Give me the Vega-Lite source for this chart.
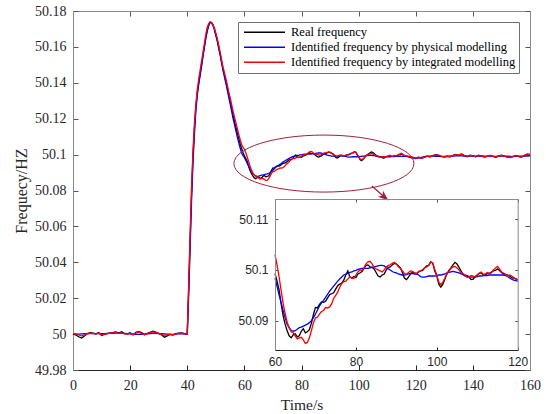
{
  "$schema": "https://vega.github.io/schema/vega-lite/v6.json",
  "width": 457,
  "height": 359,
  "autosize": "none",
  "padding": {"left": 73, "top": 11, "right": 16, "bottom": 44},
  "background": "white",
  "config": {
    "view": {"stroke": null},
    "legend": {
      "orient": "none", "legendX": 165, "legendY": 11, "title": null,
      "symbolType": "stroke", "symbolSize": 1681, "symbolStrokeWidth": 1.3,
      "labelFont": "Liberation Serif", "labelFontSize": 12.5, "labelColor": "#000000",
      "strokeColor": "#707070", "fillColor": "white", "padding": 3,
      "clipHeight": 14.5, "rowPadding": 0, "labelOffset": 5, "symbolOffset": 2, "labelLimit": 400
    }
  },
  "data": {"values": [
    {"t":0,"r":50.0000,"p":50.0000,"i":50.0002},
    {"t":1,"r":49.9995,"p":50.0000,"i":50.0001},
    {"t":2,"r":49.9985,"p":50.0000,"i":49.9995},
    {"t":3,"r":49.9978,"p":50.0001,"i":49.9990},
    {"t":4,"r":49.9990,"p":50.0002,"i":49.9995},
    {"t":5,"r":50.0003,"p":50.0003,"i":50.0002},
    {"t":6,"r":50.0008,"p":50.0003,"i":50.0005},
    {"t":7,"r":50.0005,"p":50.0003,"i":50.0004},
    {"t":8,"r":50.0002,"p":50.0003,"i":50.0000},
    {"t":9,"r":50.0009,"p":50.0003,"i":50.0006},
    {"t":10,"r":49.9992,"p":50.0003,"i":49.9996},
    {"t":11,"r":49.9998,"p":50.0003,"i":50.0000},
    {"t":12,"r":50.0003,"p":50.0004,"i":50.0003},
    {"t":13,"r":50.0005,"p":50.0005,"i":50.0006},
    {"t":14,"r":50.0008,"p":50.0006,"i":50.0005},
    {"t":15,"r":50.0012,"p":50.0006,"i":50.0008},
    {"t":16,"r":50.0006,"p":50.0006,"i":50.0004},
    {"t":17,"r":50.0013,"p":50.0005,"i":50.0007},
    {"t":18,"r":50.0003,"p":50.0004,"i":50.0002},
    {"t":19,"r":50.0001,"p":50.0003,"i":50.0000},
    {"t":20,"r":50.0007,"p":50.0002,"i":50.0004},
    {"t":21,"r":49.9995,"p":50.0000,"i":49.9998},
    {"t":22,"r":50.0010,"p":49.9999,"i":50.0006},
    {"t":23,"r":50.0014,"p":49.9999,"i":50.0011},
    {"t":24,"r":50.0008,"p":49.9999,"i":50.0004},
    {"t":25,"r":49.9997,"p":50.0000,"i":49.9996},
    {"t":26,"r":50.0004,"p":50.0002,"i":50.0003},
    {"t":27,"r":50.0010,"p":50.0003,"i":50.0008},
    {"t":28,"r":50.0016,"p":50.0004,"i":50.0012},
    {"t":29,"r":50.0011,"p":50.0004,"i":50.0009},
    {"t":30,"r":50.0004,"p":50.0003,"i":50.0004},
    {"t":31,"r":49.9996,"p":50.0002,"i":49.9998},
    {"t":32,"r":49.9982,"p":50.0001,"i":49.9993},
    {"t":33,"r":49.9990,"p":50.0000,"i":49.9996},
    {"t":34,"r":49.9998,"p":49.9999,"i":49.9999},
    {"t":35,"r":49.9994,"p":49.9999,"i":49.9996},
    {"t":36,"r":50.0002,"p":50.0000,"i":50.0001},
    {"t":37,"r":50.0005,"p":50.0001,"i":50.0004},
    {"t":38,"r":50.0007,"p":50.0001,"i":50.0006},
    {"t":39,"r":50.0002,"p":50.0001,"i":50.0002},
    {"t":40,"r":50.0000,"p":50.0000,"i":50.0000},
    {"t":40.5,"r":50.025,"p":50.022,"i":50.028},
    {"t":41,"r":50.052,"p":50.048,"i":50.056},
    {"t":41.5,"r":50.078,"p":50.074,"i":50.082},
    {"t":42,"r":50.099,"p":50.095,"i":50.102},
    {"t":42.5,"r":50.114,"p":50.111,"i":50.117},
    {"t":43,"r":50.126,"p":50.124,"i":50.128},
    {"t":43.5,"r":50.134,"p":50.133,"i":50.136},
    {"t":44,"r":50.140,"p":50.139,"i":50.142},
    {"t":44.5,"r":50.145,"p":50.144,"i":50.147},
    {"t":45,"r":50.150,"p":50.149,"i":50.152},
    {"t":45.5,"r":50.155,"p":50.155,"i":50.157},
    {"t":46,"r":50.160,"p":50.160,"i":50.162},
    {"t":46.5,"r":50.165,"p":50.165,"i":50.167},
    {"t":47,"r":50.169,"p":50.169,"i":50.171},
    {"t":47.5,"r":50.172,"p":50.172,"i":50.173},
    {"t":48,"r":50.1737,"p":50.1737,"i":50.1740},
    {"t":48.5,"r":50.1735,"p":50.1735,"i":50.1735},
    {"t":49,"r":50.1722,"p":50.1720,"i":50.1725},
    {"t":49.5,"r":50.1700,"p":50.1695,"i":50.1705},
    {"t":50,"r":50.1670,"p":50.1665,"i":50.1678},
    {"t":50.5,"r":50.1640,"p":50.1632,"i":50.1648},
    {"t":51,"r":50.1600,"p":50.1592,"i":50.1610},
    {"t":51.5,"r":50.1562,"p":50.1555,"i":50.1572},
    {"t":52,"r":50.1520,"p":50.1512,"i":50.1530},
    {"t":52.5,"r":50.1478,"p":50.1470,"i":50.1490},
    {"t":53,"r":50.1445,"p":50.1435,"i":50.1458},
    {"t":53.5,"r":50.1410,"p":50.1398,"i":50.1425},
    {"t":54,"r":50.1372,"p":50.1360,"i":50.1390},
    {"t":54.5,"r":50.1335,"p":50.1322,"i":50.1352},
    {"t":55,"r":50.1298,"p":50.1284,"i":50.1318},
    {"t":55.5,"r":50.1260,"p":50.1245,"i":50.1282},
    {"t":56,"r":50.1222,"p":50.1205,"i":50.1245},
    {"t":56.5,"r":50.1190,"p":50.1170,"i":50.1212},
    {"t":57,"r":50.1155,"p":50.1135,"i":50.1180},
    {"t":57.5,"r":50.1122,"p":50.1100,"i":50.1148},
    {"t":58,"r":50.1092,"p":50.1068,"i":50.1115},
    {"t":58.5,"r":50.1062,"p":50.1038,"i":50.1085},
    {"t":59,"r":50.1035,"p":50.1010,"i":50.1058},
    {"t":59.5,"r":50.1012,"p":50.0995,"i":50.1042},
    {"t":60,"r":50.0993,"p":50.0984,"i":50.1030},
    {"t":60.5,"r":50.0978,"p":50.0968,"i":50.1010},
    {"t":61,"r":50.0961,"p":50.0951,"i":50.0987},
    {"t":61.5,"r":50.0934,"p":50.0936,"i":50.0960},
    {"t":62,"r":50.0910,"p":50.0920,"i":50.0935},
    {"t":62.5,"r":50.0893,"p":50.0906,"i":50.0914},
    {"t":63,"r":50.0880,"p":50.0893,"i":50.0897},
    {"t":63.5,"r":50.0870,"p":50.0886,"i":50.0886},
    {"t":64,"r":50.0866,"p":50.0881,"i":50.0878},
    {"t":64.5,"r":50.0872,"p":50.0879,"i":50.0876},
    {"t":65,"r":50.0874,"p":50.0880,"i":50.0870},
    {"t":65.5,"r":50.0868,"p":50.0883,"i":50.0864},
    {"t":66,"r":50.0870,"p":50.0886,"i":50.0866},
    {"t":66.5,"r":50.0879,"p":50.0887,"i":50.0867},
    {"t":67,"r":50.0884,"p":50.0889,"i":50.0862},
    {"t":67.5,"r":50.0876,"p":50.0891,"i":50.0855},
    {"t":68,"r":50.0878,"p":50.0893,"i":50.0857},
    {"t":68.5,"r":50.0882,"p":50.0896,"i":50.0866},
    {"t":69,"r":50.0895,"p":50.0900,"i":50.0880},
    {"t":69.5,"r":50.0912,"p":50.0906,"i":50.0896},
    {"t":70,"r":50.0926,"p":50.0913,"i":50.0905},
    {"t":70.5,"r":50.0925,"p":50.0921,"i":50.0907},
    {"t":71,"r":50.0932,"p":50.0929,"i":50.0913},
    {"t":71.5,"r":50.0937,"p":50.0935,"i":50.0918},
    {"t":72,"r":50.0936,"p":50.0940,"i":50.0920},
    {"t":72.5,"r":50.0938,"p":50.0946,"i":50.0926},
    {"t":73,"r":50.0945,"p":50.0952,"i":50.0925},
    {"t":73.5,"r":50.0951,"p":50.0958,"i":50.0927},
    {"t":74,"r":50.0953,"p":50.0963,"i":50.0933},
    {"t":74.5,"r":50.0955,"p":50.0968,"i":50.0944},
    {"t":75,"r":50.0962,"p":50.0973,"i":50.0950},
    {"t":75.5,"r":50.0969,"p":50.0978,"i":50.0956},
    {"t":76,"r":50.0972,"p":50.0982,"i":50.0966},
    {"t":76.5,"r":50.0974,"p":50.0986,"i":50.0973},
    {"t":77,"r":50.0980,"p":50.0990,"i":50.0977},
    {"t":77.5,"r":50.0990,"p":50.0992,"i":50.0978},
    {"t":78,"r":50.0998,"p":50.0993,"i":50.0982},
    {"t":78.5,"r":50.0986,"p":50.0995,"i":50.0987},
    {"t":79,"r":50.0984,"p":50.0996,"i":50.0984},
    {"t":79.5,"r":50.0987,"p":50.0998,"i":50.0983},
    {"t":80,"r":50.0985,"p":50.0999,"i":50.0990},
    {"t":80.5,"r":50.0992,"p":50.1001,"i":50.0996},
    {"t":81,"r":50.0994,"p":50.1002,"i":50.1000},
    {"t":81.5,"r":50.0997,"p":50.1003,"i":50.0999},
    {"t":82,"r":50.1003,"p":50.1003,"i":50.1004},
    {"t":82.5,"r":50.1009,"p":50.1003,"i":50.1012},
    {"t":83,"r":50.1010,"p":50.1003,"i":50.1016},
    {"t":83.5,"r":50.1006,"p":50.1004,"i":50.1017},
    {"t":84,"r":50.1005,"p":50.1005,"i":50.1012},
    {"t":84.5,"r":50.1002,"p":50.1006,"i":50.1005},
    {"t":85,"r":50.0995,"p":50.1007,"i":50.1002},
    {"t":85.5,"r":50.0988,"p":50.1008,"i":50.1000},
    {"t":86,"r":50.0986,"p":50.1009,"i":50.0998},
    {"t":86.5,"r":50.0990,"p":50.1009,"i":50.0996},
    {"t":87,"r":50.0992,"p":50.1008,"i":50.1000},
    {"t":87.5,"r":50.1000,"p":50.1005,"i":50.1006},
    {"t":88,"r":50.1005,"p":50.1002,"i":50.1009},
    {"t":88.5,"r":50.1006,"p":50.1000,"i":50.1010},
    {"t":89,"r":50.1010,"p":50.0997,"i":50.1013},
    {"t":89.5,"r":50.1013,"p":50.0995,"i":50.1015},
    {"t":90,"r":50.1012,"p":50.0994,"i":50.1012},
    {"t":90.5,"r":50.1008,"p":50.0992,"i":50.1006},
    {"t":91,"r":50.1004,"p":50.0991,"i":50.1003},
    {"t":91.5,"r":50.0995,"p":50.0990,"i":50.0998},
    {"t":92,"r":50.0984,"p":50.0990,"i":50.0993},
    {"t":92.5,"r":50.0981,"p":50.0991,"i":50.0991},
    {"t":93,"r":50.0986,"p":50.0992,"i":50.0995},
    {"t":93.5,"r":50.0992,"p":50.0993,"i":50.0998},
    {"t":94,"r":50.0996,"p":50.0993,"i":50.0997},
    {"t":94.5,"r":50.0994,"p":50.0992,"i":50.0994},
    {"t":95,"r":50.0992,"p":50.0992,"i":50.0993},
    {"t":95.5,"r":50.0996,"p":50.0990,"i":50.0997},
    {"t":96,"r":50.0998,"p":50.0987,"i":50.0998},
    {"t":96.5,"r":50.0999,"p":50.0986,"i":50.1001},
    {"t":97,"r":50.1004,"p":50.0986,"i":50.1004},
    {"t":97.5,"r":50.1008,"p":50.0987,"i":50.1006},
    {"t":98,"r":50.1009,"p":50.0988,"i":50.1009},
    {"t":98.5,"r":50.1016,"p":50.0988,"i":50.1016},
    {"t":99,"r":50.1013,"p":50.0988,"i":50.1014},
    {"t":99.5,"r":50.0998,"p":50.0988,"i":50.1001},
    {"t":100,"r":50.0988,"p":50.0989,"i":50.0990},
    {"t":100.5,"r":50.0972,"p":50.0990,"i":50.0976},
    {"t":101,"r":50.0966,"p":50.0990,"i":50.0971},
    {"t":101.5,"r":50.0972,"p":50.0991,"i":50.0976},
    {"t":102,"r":50.0982,"p":50.0992,"i":50.0984},
    {"t":102.5,"r":50.0992,"p":50.0994,"i":50.0993},
    {"t":103,"r":50.0999,"p":50.0995,"i":50.0997},
    {"t":103.5,"r":50.1004,"p":50.0996,"i":50.1003},
    {"t":104,"r":50.1010,"p":50.0997,"i":50.1006},
    {"t":104.5,"r":50.1015,"p":50.0996,"i":50.1007},
    {"t":105,"r":50.1012,"p":50.0995,"i":50.1004},
    {"t":105.5,"r":50.1005,"p":50.0994,"i":50.1000},
    {"t":106,"r":50.0998,"p":50.0992,"i":50.0994},
    {"t":106.5,"r":50.0991,"p":50.0991,"i":50.0993},
    {"t":107,"r":50.0988,"p":50.0990,"i":50.0990},
    {"t":107.5,"r":50.0988,"p":50.0989,"i":50.0985},
    {"t":108,"r":50.0985,"p":50.0987,"i":50.0986},
    {"t":108.5,"r":50.0981,"p":50.0986,"i":50.0989},
    {"t":109,"r":50.0982,"p":50.0986,"i":50.0988},
    {"t":109.5,"r":50.0987,"p":50.0986,"i":50.0986},
    {"t":110,"r":50.0990,"p":50.0987,"i":50.0990},
    {"t":110.5,"r":50.0993,"p":50.0988,"i":50.0994},
    {"t":111,"r":50.0994,"p":50.0988,"i":50.0996},
    {"t":111.5,"r":50.0990,"p":50.0989,"i":50.0991},
    {"t":112,"r":50.0990,"p":50.0989,"i":50.0992},
    {"t":112.5,"r":50.0993,"p":50.0989,"i":50.0995},
    {"t":113,"r":50.0993,"p":50.0990,"i":50.0993},
    {"t":113.5,"r":50.0996,"p":50.0990,"i":50.0994},
    {"t":114,"r":50.0998,"p":50.0990,"i":50.1000},
    {"t":114.5,"r":50.0999,"p":50.0990,"i":50.1004},
    {"t":115,"r":50.1002,"p":50.0990,"i":50.1007},
    {"t":115.5,"r":50.0999,"p":50.0990,"i":50.1002},
    {"t":116,"r":50.0995,"p":50.0990,"i":50.0996},
    {"t":116.5,"r":50.0992,"p":50.0990,"i":50.0994},
    {"t":117,"r":50.0991,"p":50.0989,"i":50.0991},
    {"t":117.5,"r":50.0990,"p":50.0987,"i":50.0988},
    {"t":118,"r":50.0988,"p":50.0984,"i":50.0990},
    {"t":118.5,"r":50.0985,"p":50.0982,"i":50.0988},
    {"t":119,"r":50.0984,"p":50.0980,"i":50.0985},
    {"t":119.5,"r":50.0983,"p":50.0979,"i":50.0982},
    {"t":120,"r":50.0980,"p":50.0978,"i":50.0981},
    {"t":121,"r":50.0985,"p":50.0982,"i":50.0984},
    {"t":122,"r":50.0980,"p":50.0985,"i":50.0979},
    {"t":123,"r":50.0986,"p":50.0988,"i":50.0985},
    {"t":124,"r":50.0991,"p":50.0990,"i":50.0992},
    {"t":125,"r":50.0988,"p":50.0991,"i":50.0987},
    {"t":126,"r":50.0994,"p":50.0991,"i":50.0995},
    {"t":127,"r":50.0999,"p":50.0990,"i":50.0998},
    {"t":128,"r":50.0996,"p":50.0990,"i":50.0997},
    {"t":129,"r":50.0990,"p":50.0989,"i":50.0991},
    {"t":130,"r":50.0986,"p":50.0990,"i":50.0987},
    {"t":131,"r":50.0990,"p":50.0991,"i":50.0992},
    {"t":132,"r":50.0987,"p":50.0992,"i":50.0988},
    {"t":133,"r":50.0995,"p":50.0992,"i":50.0996},
    {"t":134,"r":50.1001,"p":50.0993,"i":50.1000},
    {"t":135,"r":50.0996,"p":50.0994,"i":50.0997},
    {"t":136,"r":50.1003,"p":50.0993,"i":50.1002},
    {"t":137,"r":50.0994,"p":50.0992,"i":50.0995},
    {"t":138,"r":50.0988,"p":50.0991,"i":50.0990},
    {"t":139,"r":50.0997,"p":50.0991,"i":50.0996},
    {"t":140,"r":50.0993,"p":50.0991,"i":50.0993},
    {"t":141,"r":50.0988,"p":50.0992,"i":50.0989},
    {"t":142,"r":50.0996,"p":50.0992,"i":50.0997},
    {"t":143,"r":50.0992,"p":50.0993,"i":50.0993},
    {"t":144,"r":50.0986,"p":50.0992,"i":50.0987},
    {"t":145,"r":50.0990,"p":50.0991,"i":50.0990},
    {"t":146,"r":50.0995,"p":50.0991,"i":50.0995},
    {"t":147,"r":50.0990,"p":50.0990,"i":50.0991},
    {"t":148,"r":50.0985,"p":50.0990,"i":50.0986},
    {"t":149,"r":50.0992,"p":50.0991,"i":50.0991},
    {"t":150,"r":50.0997,"p":50.0992,"i":50.0996},
    {"t":151,"r":50.0991,"p":50.0992,"i":50.0991},
    {"t":152,"r":50.0987,"p":50.0991,"i":50.0986},
    {"t":153,"r":50.0983,"p":50.0990,"i":50.0984},
    {"t":154,"r":50.0989,"p":50.0989,"i":50.0990},
    {"t":155,"r":50.0994,"p":50.0990,"i":50.0995},
    {"t":156,"r":50.0990,"p":50.0991,"i":50.0989},
    {"t":157,"r":50.0986,"p":50.0991,"i":50.0985},
    {"t":158,"r":50.0995,"p":50.0992,"i":50.0996},
    {"t":159,"r":50.1002,"p":50.0992,"i":50.1002},
    {"t":160,"r":50.1000,"p":50.0993,"i":50.1001}
  ]},
  "layer": [
    {
      "layer": [
        {
          "transform": [{"fold": ["r", "p", "i"], "as": ["s", "f"]}],
          "mark": {"type": "line", "strokeWidth": 1.3},
          "encoding": {
            "x": {"field": "t", "type": "quantitative",
              "scale": {"domain": [0, 160], "nice": false, "zero": false},
              "axis": {"orient": "bottom", "values": [0,20,40,60,80,100,120,140,160], "title": "Time/s",
                "grid": false, "tickSize": -5, "tickColor": "#262626", "domainColor": "#262626",
                "labelFont": "Liberation Serif", "labelFontSize": 14, "labelColor": "#262626",
                "labelPadding": 13, "labelFlush": false,
                "titleFont": "Liberation Serif", "titleFontSize": 15.5, "titleFontWeight": "normal",
                "titleColor": "#262626", "titlePadding": 5}},
            "y": {"field": "f", "type": "quantitative",
              "scale": {"domain": [49.98, 50.18], "nice": false, "zero": false},
              "axis": {"orient": "left", "values": [49.98,50,50.02,50.04,50.06,50.08,50.1,50.12,50.14,50.16,50.18],
                "format": "~g", "title": "Frequecy/HZ", "grid": false,
                "tickSize": -5, "tickColor": "#555555", "domainColor": "#8a8a8a",
                "labelFont": "Liberation Serif", "labelFontSize": 14, "labelColor": "#262626",
                "labelPadding": 12,
                "titleFont": "Liberation Serif", "titleFontSize": 16, "titleFontWeight": "normal",
                "titleColor": "#262626", "titlePadding": 5}},
            "color": {"field": "s", "type": "nominal",
              "scale": {"domain": ["r", "p", "i"], "range": ["#000000", "#0000ff", "#ff0000"]},
              "legend": {"labelExpr": "datum.value == 'r' ? 'Real frequency' : datum.value == 'p' ? 'Identified frequency by physical modelling' : 'Identified frequency by integrated modelling'"}}
          }
        },
        {
          "data": {"values": [{"cx": 87.85, "cy": 50.095}]},
          "mark": {"type": "point", "shape": "M-1,0C-1,-0.1749,-0.5523,-0.3167,0,-0.3167C0.5523,-0.3167,1,-0.1749,1,0C1,0.1749,0.5523,0.3167,0,0.3167C-0.5523,0.3167,-1,0.1749,-1,0Z",
            "size": 32400, "filled": false, "color": "#a0203c", "strokeWidth": 1, "opacity": 1},
          "encoding": {
            "x": {"field": "cx", "type": "quantitative",
              "scale": {"domain": [0, 160], "nice": false, "zero": false},
              "axis": {"orient": "top", "values": [0,20,40,60,80,100,120,140,160], "labels": false, "title": null,
                "grid": false, "tickSize": -5, "tickColor": "#555555", "domainColor": "#8a8a8a"}},
            "y": {"field": "cy", "type": "quantitative",
              "scale": {"domain": [49.98, 50.18], "nice": false, "zero": false},
              "axis": {"orient": "right", "values": [49.98,50,50.02,50.04,50.06,50.08,50.1,50.12,50.14,50.16,50.18], "labels": false, "title": null,
                "grid": false, "tickSize": -5, "tickColor": "#555555", "domainColor": "#8a8a8a"}}
          }
        },
        {
          "data": {"values": [{"x1": 104.65, "y1": 50.0825, "x2": 108.7, "y2": 50.0768}]},
          "mark": {"type": "rule", "color": "#a0203c", "strokeWidth": 1.2},
          "encoding": {
            "x": {"field": "x1", "type": "quantitative", "scale": {"domain": [0, 160], "nice": false, "zero": false}, "axis": null},
            "y": {"field": "y1", "type": "quantitative", "scale": {"domain": [49.98, 50.18], "nice": false, "zero": false}, "axis": null},
            "x2": {"field": "x2"},
            "y2": {"field": "y2"}
          }
        },
        {
          "data": {"values": [{"ax": 108.7, "ay": 50.0768}]},
          "mark": {"type": "point", "shape": "M0,1L-0.6,-0.6L0,-0.2L0.6,-0.6Z", "size": 170, "filled": true,
            "color": "#a0203c", "opacity": 1, "angle": 311},
          "encoding": {
            "x": {"field": "ax", "type": "quantitative", "scale": {"domain": [0, 160], "nice": false, "zero": false}, "axis": null},
            "y": {"field": "ay", "type": "quantitative", "scale": {"domain": [49.98, 50.18], "nice": false, "zero": false}, "axis": null}
          }
        }
      ],
      "resolve": {"axis": {"x": "independent", "y": "independent"}}
    },
    {
      "layer": [
        {
          "data": {"values": [{"a": 60, "b": 120, "c": 50.0842, "d": 50.114}]},
          "mark": {"type": "rect", "opacity": 0},
          "encoding": {
            "x": {"field": "a", "type": "quantitative",
              "scale": {"domain": [60, 120], "range": [202, 444.7], "nice": false, "zero": false},
              "axis": {"orient": "top", "offset": -188, "values": [60, 80, 100, 120], "labels": false, "title": null,
                "grid": false, "tickSize": -3, "tickColor": "#555555", "domainColor": "#8a8a8a", "zindex": 1}},
            "x2": {"field": "b"},
            "y": {"field": "c", "type": "quantitative",
              "scale": {"domain": [50.0842, 50.114], "range": [339, 188], "nice": false, "zero": false},
              "axis": {"orient": "right", "offset": -12.3, "values": [50.09, 50.1, 50.11], "labels": false, "title": null,
                "grid": false, "tickSize": -3, "tickColor": "#555555", "domainColor": "#8a8a8a", "zindex": 1}},
            "y2": {"field": "d"}
          }
        },
        {
          "transform": [{"filter": "datum.t >= 60 && datum.t <= 120"}, {"fold": ["r", "p", "i"], "as": ["s", "f"]}],
          "mark": {"type": "line", "strokeWidth": 1.3},
          "encoding": {
            "x": {"field": "t", "type": "quantitative",
              "scale": {"domain": [60, 120], "range": [202, 444.7], "nice": false, "zero": false},
              "axis": {"orient": "bottom", "offset": -20, "values": [60, 80, 100, 120], "title": null,
                "grid": false, "tickSize": -3, "tickColor": "#262626", "domainColor": "#262626",
                "labelFont": "Liberation Sans", "labelFontSize": 12, "labelColor": "#262626",
                "labelPadding": 9, "labelFlush": false, "zindex": 1}},
            "y": {"field": "f", "type": "quantitative",
              "scale": {"domain": [50.0842, 50.114], "range": [339, 188], "nice": false, "zero": false},
              "axis": {"orient": "left", "offset": -202, "values": [50.09, 50.1, 50.11], "format": "~g", "title": null,
                "grid": false, "tickSize": -3, "tickColor": "#555555", "domainColor": "#8a8a8a",
                "labelFont": "Liberation Sans", "labelFontSize": 12, "labelColor": "#262626",
                "labelPadding": 10, "zindex": 1}},
            "color": {"field": "s", "type": "nominal",
              "scale": {"domain": ["r", "p", "i"], "range": ["#000000", "#0000ff", "#ff0000"]},
              "legend": {"labelExpr": "datum.value == 'r' ? 'Real frequency' : datum.value == 'p' ? 'Identified frequency by physical modelling' : 'Identified frequency by integrated modelling'"}}
          }
        }
      ],
      "resolve": {"axis": {"x": "independent", "y": "independent"}}
    }
  ],
  "resolve": {"scale": {"x": "independent", "y": "independent"}}
}
